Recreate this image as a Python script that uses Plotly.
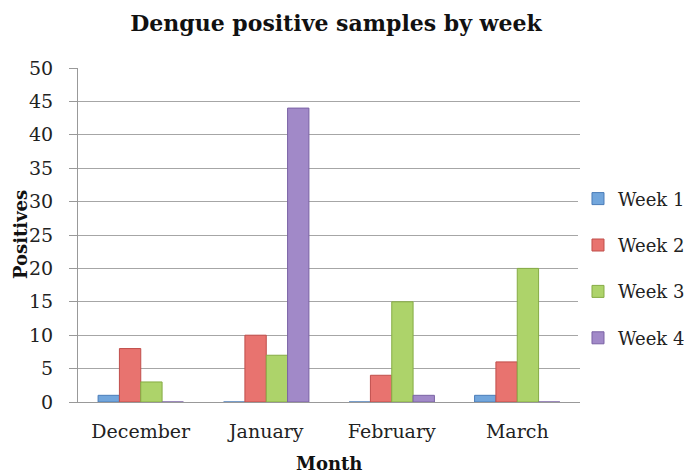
import plotly.graph_objects as go

months = ["December", "January", "February", "March"]
week1 = [1, 0, 0, 1]
week2 = [8, 10, 4, 6]
week3 = [3, 7, 15, 20]
week4 = [0, 44, 1, 0]
series = [("Week 1", week1), ("Week 2", week2), ("Week 3", week3), ("Week 4", week4)]
y_ticks = list(range(0, 51, 5))

colors = ["#72a6dc", "#e8736f", "#add36a", "#a189c8"]
edges = ["#4a7cb8", "#c04e4b", "#86ac45", "#7a62a4"]

font_family = "DejaVu Serif, Liberation Serif, serif"

fig = go.Figure()
for i, (name, vals) in enumerate(series):
    fig.add_trace(go.Bar(
        x=months, y=vals, name=name,
        marker=dict(color=colors[i], line=dict(color=edges[i], width=1)),
        legendgroup=name,
    ))

fig.update_layout(
    width=692, height=476,
    margin=dict(l=70, r=120, t=60, b=82, autoexpand=False),
    paper_bgcolor="white", plot_bgcolor="white",
    barmode="group", bargap=0.32, bargroupgap=0,
    font=dict(family=font_family, size=19, color="#222"),
    title=dict(text="<b>Dengue positive samples by week</b>", x=0.474, xanchor="center",
               y=0.985, yanchor="top", font=dict(size=22, color="#111")),
    xaxis=dict(
        showline=True, linecolor="#999", linewidth=1,
        ticks="", tickfont=dict(size=19), ticklabelstandoff=12,
    ),
    yaxis=dict(
        range=[0, 50], tickvals=y_ticks,
        showgrid=True, gridcolor="#a6a6a6", gridwidth=1,
        showline=True, linecolor="#999", linewidth=1,
        ticks="outside", ticklen=8, tickcolor="#999",
        tickfont=dict(size=19), zeroline=False, ticklabelstandoff=12,
    ),
    legend=dict(x=0.996, xanchor="left", y=0.40, yanchor="middle",
                traceorder="grouped", tracegroupgap=20,
                font=dict(size=18, color="#222")),
    annotations=[
        dict(text="<b>Month</b>", xref="paper", yref="paper", x=0.5, y=-0.183,
             xanchor="center", yanchor="middle", showarrow=False,
             font=dict(size=18, color="#111")),
        dict(text="<b>Positives</b>", xref="paper", yref="paper", x=-0.1155, y=0.5,
             xanchor="center", yanchor="middle", showarrow=False, textangle=-90,
             font=dict(size=18, color="#111")),
    ],
)

fig.write_html("out.html")
